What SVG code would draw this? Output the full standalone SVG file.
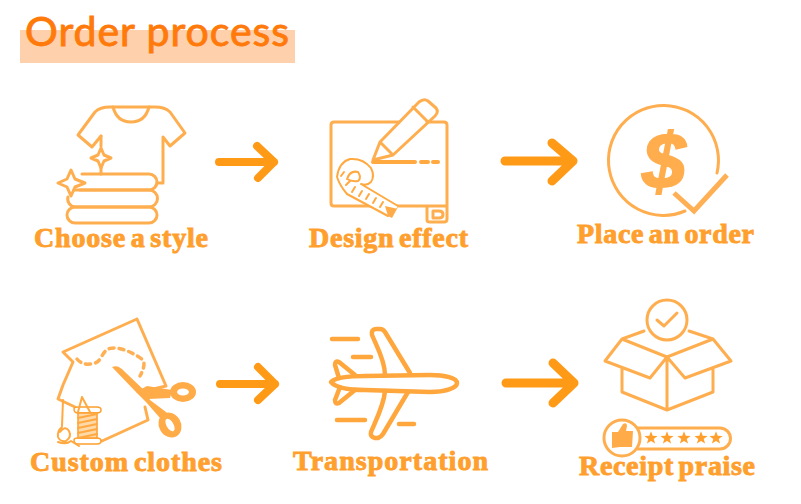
<svg xmlns="http://www.w3.org/2000/svg" width="801" height="504" viewBox="0 0 801 504">
<style>
.l{fill:none;stroke:#FFAE4F;stroke-width:3;stroke-linecap:round;stroke-linejoin:round}
.p{fill:none;stroke:#FFA63C;stroke-width:4.500;stroke-linecap:round;stroke-linejoin:round}
.t{fill:none;stroke:#FFA940;stroke-width:2;stroke-linecap:round;stroke-linejoin:round}
.f{fill:#FFAB47;stroke:none}
.a{fill:none;stroke:#FF9A17;stroke-linecap:round;stroke-linejoin:round}
.lb{font-family:"Liberation Serif",serif;font-weight:700;font-size:28px;word-spacing:-3px;fill:#FF9F2E;stroke:#FF9F2E;stroke-width:.9}
</style>
<defs>
<path id="star" d="M0,-6.800 L1.700,-2.200 6.600,-2.100 2.700,.9 4.100,5.600 0,2.900 -4.100,5.600 -2.700,.9 -6.600,-2.100 -1.700,-2.200Z"/>
</defs>
<g id="title">
<rect x="20" y="30" width="275" height="33" fill="#FFD0AC"/>
<text x="25" y="46" font-family="Lato,sans-serif" font-size="41" fill="#FF7A0A" stroke="#FF7A0A" stroke-width=".9" textLength="264" lengthAdjust="spacing">Order process</text>
</g>
<g id="connectors">
<path class="a" stroke-width="8" d="M219,162H274M257,146L274,162L258,178"/>
<path class="a" stroke-width="9" d="M505,161H573M552,143L573,161L552,181"/>
<path class="a" stroke-width="8" d="M220,384H275M258,367L275,384L258,400"/>
<path class="a" stroke-width="9" d="M506,383H574M553,363L574,383L553,403"/>
</g>
<g id="node-choose-style">
<path class="l" d="M101,136L92,147L78,135L95,112Q100,107 110,107H155Q165,107 170,112L185,133L170,146L163,137V183H157"/>
<path class="l" d="M113,107Q117,122 131,122Q145,122 149,107"/>
<path class="l" d="M101,136V146M101,166V174"/>
<path class="l" d="M101,148L104,155L111,158L104,161L101,168L98,161L91,158L98,155Z"/>
<path class="l" d="M82,174H149A8,8 0 0 1 149,190H80"/>
<path class="l" d="M74,190H149A8,8 0 0 1 149,207H75A8,8 0 0 1 68,197"/>
<path class="l" d="M75,207H149A8,8 0 0 1 149,223H75A8,8 0 0 1 75,207"/>
<path class="l" d="M71,170L75,179L85,183L75,187L71,196L67,187L58,183L67,179Z"/>
<text class="lb" x="34" y="247" textLength="174" lengthAdjust="spacing">Choose a style</text>
</g>
<g id="node-design-effect">
<path class="l" d="M399,122H334Q331,122 331,125V203Q331,206 334,206H427V220Q427,222 430,222H444Q447,222 447,219V125Q447,122 444,122H427M427,206H447"/>
<path class="l" stroke-width="2.500" d="M433,211H439Q443,211 443,214.500Q443,218 439,218H433Z"/>
<path class="l" d="M373,160L380,142L419,102Q424,98 428,101L436,108Q439,112 435,116L393,155ZM380,142L393,155M413,107L427,121"/>
<path d="M373,162H415M421,162H428M433,162H438" fill="none" stroke="#FFA940" stroke-width="4" stroke-linecap="round"/>
<path d="M337,177Q339,162 350,159Q363,158 371,168Q375,176 371,182L364,185L398,206L392,218L345,194Q339,187 337,177Z" fill="#fff"/>
<path class="t" d="M337,177Q339,162 350,159Q363,158 371,168Q375,176 371,182Q367,186 361,184M337,177Q340,186 347,194L388,216M347,179Q350,170 358,172Q362,178 358,181Q352,182 347,179M361,184L398,206"/>
<path class="t" stroke-width="1.500" d="M341,176L344,172M346,185L350,181M352,192L355,187M359,196L362,191M366,199L369,194M373,203L376,198M380,207L383,202"/>
<path class="f" d="M385,206L396,208.500L398,207L392,218L388,216Z"/>
<text class="lb" x="309" y="247" textLength="159" lengthAdjust="spacing">Design effect</text>
</g>
<g id="node-place-order">
<path class="l" d="M717,173A55,55 0 1 0 685,211"/>
<text x="664" y="188" text-anchor="middle" font-family="Liberation Sans,sans-serif" font-weight="700" font-style="italic" font-size="78" fill="#FFAD4D" stroke="#FFAD4D" stroke-width="2">$</text>
<path d="M674,193L694,211L727,175" fill="none" stroke="#FFB055" stroke-width="5"/>
<text class="lb" x="577" y="243" textLength="177" lengthAdjust="spacing">Place an order</text>
</g>
<g id="node-custom-clothes">
<path class="l" stroke-width="2.500" d="M137,319L63,352L73,362L63,385L58,399L75,407M137,319L166,386L145,391M145,407L148,420L102,441"/>
<path d="M77,359Q82,365 90,364Q98,364 102,356Q106,347 116,348Q130,350 143,360Q146,365 140,376" fill="none" stroke="#FFB055" stroke-width="3.500" stroke-dasharray="5 5" stroke-linecap="round"/>
<path class="f" d="M112,367Q118,364 125,372L146,392L150,400L166,412L172,424L160,418L146,402L135,391Z"/>
<path class="f" d="M136,392L147,386L172,390L170,398L148,399Z"/>
<ellipse class="f" cx="183" cy="392" rx="13" ry="10"/>
<ellipse cx="183" cy="392" rx="6" ry="3.500" fill="#fff"/>
<ellipse class="f" cx="170" cy="425" rx="11" ry="13" transform="rotate(-30 170 425)"/>
<ellipse cx="170" cy="425" rx="3.500" ry="7" fill="#fff" transform="rotate(-30 170 425)"/>
<path d="M74,409Q74,407 78,407H97Q101,407 101,410Q101,413 97,413H78Q74,413 74,409ZM74,440Q74,438 78,438H97Q101,438 101,441Q101,444 97,444H78Q74,444 74,440Z" fill="#fff" stroke="#FF9F2E" stroke-width="1.500"/>
<path d="M78,413H97V438H78Z" fill="#FFD9A8" stroke="#FF9F2E" stroke-width="1.500"/>
<path class="t" stroke-width="1.500" d="M78,418L97,414M78,423L97,419M78,428L97,424M78,433L97,429M78,438L97,434"/>
<path class="t" stroke-width="1.500" d="M82,397L78,412M82,397L90,412M63,400L62,426M62,427Q57,431 58,437Q60,442 66,441Q72,437 69,431Q65,425 60,432M58,442Q66,445 71,441L79,446"/>
<text class="lb" x="30" y="471" textLength="192" lengthAdjust="spacing">Custom clothes</text>
</g>
<g id="node-transportation">
<path class="p" d="M331,382C336,377 350,376 365,376L430,375C445,375 457,378 457,383C457,388 445,392 430,392L365,390C350,390 336,388 331,382Z"/>
<path class="p" d="M385,375C385,360 376,345 372,335Q371,329 376,329H380Q383,329 385,332L410,373"/>
<path class="p" d="M385,391C384,405 376,420 371,432Q370,437 375,438H378Q381,437 383,434L408,392"/>
<path class="p" d="M355,375L339,362Q335,360 335,365L339,378M355,390L339,403Q335,405 335,400L340,387"/>
<path class="p" d="M332,339H358M353,357H371M337,420H365M399,424H414"/>
<text class="lb" x="293" y="470" textLength="195" lengthAdjust="spacing">Transportation</text>
</g>
<g id="node-receipt-praise">
<circle class="l" cx="667" cy="320" r="20"/>
<path class="l" d="M657,320L664,326L677,313"/>
<path class="l" d="M644,331L622,339L667,357L713,339L689,331M622,339L605,361L650,378L667,357L685,378L731,361L713,339M622,368V392L667,410L713,392V368M667,357V410"/>
<circle class="l" cx="622" cy="438" r="18"/>
<path class="l" stroke-width="2.500" d="M638,428H720A10.500,10.500 0 0 1 720,449H638"/>
<path class="f" d="M612,432H618L623,424Q627,422 627,426L626,431H633L632,447H620L612,448Z"/>
<g fill="#FF9F2E">
<use href="#star" x="651" y="438"/>
<use href="#star" x="667" y="438"/>
<use href="#star" x="684" y="438"/>
<use href="#star" x="701" y="438"/>
<use href="#star" x="716" y="438"/>
</g>
<text class="lb" x="579" y="475" textLength="176" lengthAdjust="spacing">Receipt praise</text>
</g>
</svg>
